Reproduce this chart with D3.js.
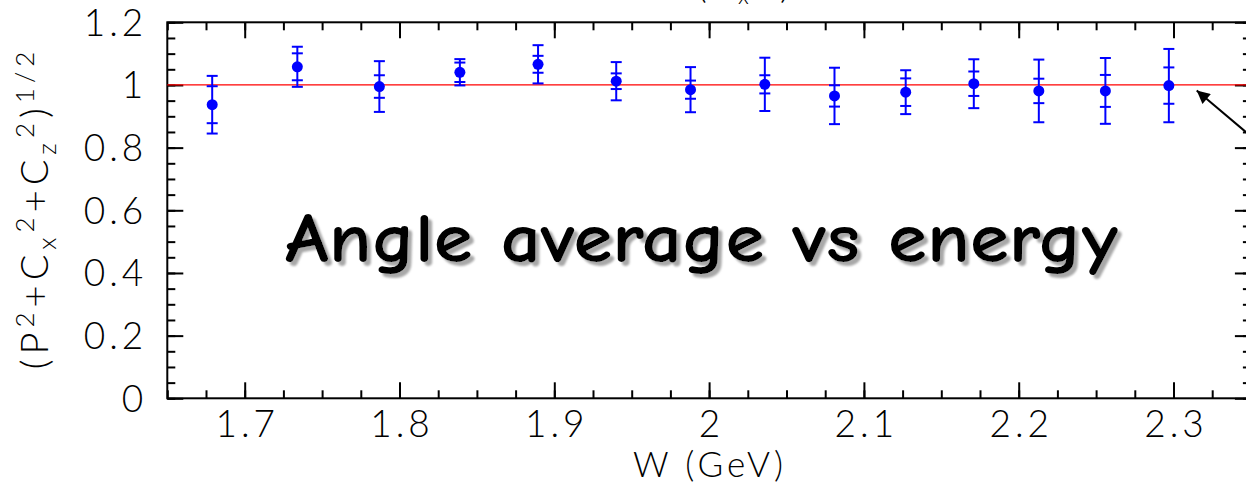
<!DOCTYPE html>
<html><head><meta charset="utf-8">
<script src="https://cdn.jsdelivr.net/npm/d3@7"></script>
<style>
html,body{margin:0;padding:0;background:#fff;}
svg{display:block;}
.tl{font-family:"Lato","Liberation Sans",sans-serif;font-weight:300;}
</style></head>
<body>
<svg id="c" width="1246" height="489"></svg>
<script>
// ---- data ----
const energies   = [1.679, 1.734, 1.787, 1.839, 1.8895, 1.940, 1.988, 2.036, 2.081, 2.127, 2.171, 2.213, 2.256, 2.297];
const magnitudes = [0.937, 1.058, 0.995, 1.0405, 1.066, 1.012, 0.985, 1.002, 0.965, 0.977, 1.004, 0.981, 0.981, 0.998];
const statErrors = [0.059, 0.043, 0.036, 0.031, 0.027, 0.025, 0.029, 0.029, 0.034, 0.044, 0.039, 0.039, 0.051, 0.058];
const totalErrors= [0.092, 0.064, 0.081, 0.042, 0.061, 0.061, 0.072, 0.085, 0.090, 0.070, 0.078, 0.100, 0.105, 0.117];
const xTickValues = [1.7, 1.8, 1.9, 2.0, 2.1, 2.2, 2.3];
const xTickLabels = ["1.7", "1.8", "1.9", "2", "2.1", "2.2", "2.3"];
const yTickValues = [0, 0.2, 0.4, 0.6, 0.8, 1.0, 1.2];
const yTickLabels = ["0", "0.2", "0.4", "0.6", "0.8", "1", "1.2"];
const referenceLevel = 1;
const overlayText = "Angle average vs energy";

const svg = d3.select("#c");
const x = d3.scaleLinear().domain([1.65, 2.35]).range([167.3, 1250.9]);
const y = d3.scaleLinear().domain([0, 1.2]).range([398.3, 22.3]);

const xMinor = d3.range(0, 29).map(i => +(1.65 + i * 0.025).toFixed(3));
const yMinor = d3.range(0, 25).map(i => +(i * 0.05).toFixed(3));

function styleAxis(g){
  g.select(".domain").remove();
  g.selectAll("line").attr("stroke", "#000").attr("stroke-width", 2);
}
// minor ticks
svg.append("g").attr("transform", `translate(0,${y(0)})`)
  .call(d3.axisBottom(x).tickValues(xMinor).tickSize(-8).tickFormat(""))
  .call(styleAxis);
svg.append("g").attr("transform", `translate(0,${y(1.2)})`)
  .call(d3.axisTop(x).tickValues(xMinor).tickSize(-8).tickFormat(""))
  .call(styleAxis);
svg.append("g").attr("transform", `translate(${x(1.65)},0)`)
  .call(d3.axisLeft(y).tickValues(yMinor).tickSize(-8).tickFormat(""))
  .call(styleAxis);
svg.append("g").attr("transform", `translate(${x(2.35)},0)`)
  .call(d3.axisRight(y).tickValues(yMinor).tickSize(-8).tickFormat(""))
  .call(styleAxis);
// major ticks
const xb = svg.append("g").attr("transform", `translate(0,${y(0)})`)
  .call(d3.axisBottom(x).tickValues(xTickValues).tickSize(-16).tickFormat((d,i)=>xTickLabels[i]))
  .call(styleAxis);
xb.selectAll("text").attr("class","tl").attr("y", 39).attr("dy", null).attr("x", 2)
  .attr("font-size", 37).attr("fill", "#000").attr("letter-spacing", 4);
svg.append("g").attr("transform", `translate(0,${y(1.2)})`)
  .call(d3.axisTop(x).tickValues(xTickValues).tickSize(-16).tickFormat(""))
  .call(styleAxis);
const yl = svg.append("g").attr("transform", `translate(${x(1.65)},0)`)
  .call(d3.axisLeft(y).tickValues(yTickValues).tickSize(-16).tickFormat((d,i)=>yTickLabels[i]))
  .call(styleAxis);
yl.selectAll("text").attr("class","tl").attr("x", -20).attr("dy", null).attr("y", 13)
  .attr("font-size", 37).attr("fill", "#000").attr("text-anchor", "end").attr("letter-spacing", 4);
svg.append("g").attr("transform", `translate(${x(2.35)},0)`)
  .call(d3.axisRight(y).tickValues(yTickValues).tickSize(-16).tickFormat(""))
  .call(styleAxis);

// frame
svg.append("rect").attr("x", x(1.65)).attr("y", y(1.2))
  .attr("width", x(2.35) - x(1.65)).attr("height", y(0) - y(1.2))
  .attr("fill", "none").attr("stroke", "#000").attr("stroke-width", 2);

// reference line
svg.append("line").attr("x1", x(1.65)).attr("x2", x(2.35))
  .attr("y1", y(referenceLevel)).attr("y2", y(referenceLevel))
  .attr("stroke", "#ff0000").attr("stroke-width", 1.2);

// data
const data = energies.map((w,i)=>({w, v:magnitudes[i], s:statErrors[i], t:totalErrors[i]}));
const blue = "#0000ff";
const pts = svg.append("g");
pts.selectAll("line.bar").data(data).join("line").attr("class","bar")
  .attr("x1", d=>x(d.w)).attr("x2", d=>x(d.w))
  .attr("y1", d=>y(d.v + d.t)).attr("y2", d=>y(d.v - d.t))
  .attr("stroke", blue).attr("stroke-width", 2);
const caps = [];
data.forEach(d=>{ [d.v+d.t, d.v-d.t, d.v+d.s, d.v-d.s].forEach(c=>caps.push({w:d.w, c})); });
pts.selectAll("line.cap").data(caps).join("line").attr("class","cap")
  .attr("x1", d=>x(d.w)-5.5).attr("x2", d=>x(d.w)+5.5)
  .attr("y1", d=>y(d.c)).attr("y2", d=>y(d.c))
  .attr("stroke", blue).attr("stroke-width", 2);
pts.selectAll("circle").data(data).join("circle")
  .attr("cx", d=>x(d.w)).attr("cy", d=>y(d.v)).attr("r", 5.5).attr("fill", blue);

// arrow annotation
const defs = svg.append("defs");
defs.append("marker").attr("id","ah").attr("viewBox","0 0 10 10")
  .attr("refX", 10).attr("refY", 5).attr("markerWidth", 18).attr("markerHeight", 13)
  .attr("markerUnits","userSpaceOnUse").attr("orient","auto")
  .append("path").attr("d","M0,0 L10,5 L0,10 Z").attr("fill","#000");
svg.append("line").attr("x1", x(2.357)).attr("y1", y(0.807))
  .attr("x2", x(2.315)).attr("y2", y(0.982))
  .attr("stroke","#000").attr("stroke-width", 2).attr("marker-end","url(#ah)");

// overlay text with drop shadow
defs.append("filter").attr("id","shadow").attr("x","-5%").attr("y","-20%").attr("width","110%").attr("height","150%")
  .append("feDropShadow").attr("dx", 4).attr("dy", 4).attr("stdDeviation", 0.8)
  .attr("flood-color", "#a8a8a8").attr("flood-opacity", 1);
svg.append("text").attr("x", 285).attr("y", 262)
  .attr("font-family", "'Comic Sans MS','Comic Neue','DejaVu Sans',sans-serif")
  .attr("font-weight", "bold").attr("font-size", 70).attr("fill", "#000")
  .attr("filter", "url(#shadow)")
  .attr("textLength", 833).attr("lengthAdjust", "spacingAndGlyphs").text(overlayText);

// x axis title
svg.append("text").attr("class","tl").attr("x", 710).attr("y", 477)
  .attr("text-anchor","middle").attr("font-size", 35).attr("fill","#000")
  .attr("letter-spacing", 4).text("W (GeV)");

// y axis title
const yt = svg.append("text").attr("class","tl")
  .attr("transform", "translate(48,208) rotate(-90)")
  .attr("text-anchor","middle").attr("font-size", 38).attr("fill","#000")
  .attr("letter-spacing", 5);
const parts = [
  ["(P",0],["2",-14,true],["+C",14],["x",8,true],["2",-22,true],["+C",14],["z",8,true],["2",-22,true],[")",14],["1/2",-14,true]
];
parts.forEach(p=>{
  const t = yt.append("tspan").attr("dy", p[1]).text(p[0]);
  if (p[2]) t.attr("font-size", 26);
});

// partially visible title at top edge
const topTitle = svg.append("text").attr("class","tl").attr("font-size", 38).attr("fill","#000");
topTitle.append("tspan").attr("x", 697).attr("y", -2).text("(");
topTitle.append("tspan").attr("x", 738).attr("y", 4).attr("font-size", 23).text("x");
topTitle.append("tspan").attr("x", 780).attr("y", -2).text(")");
</script>
</body></html>
